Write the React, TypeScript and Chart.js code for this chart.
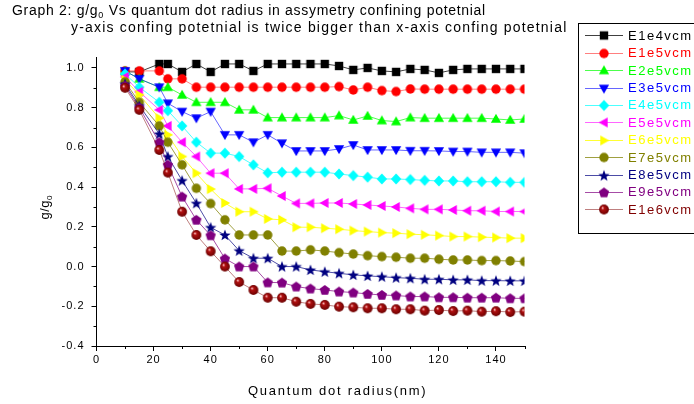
import React, { useEffect, useRef } from 'react';
import { Chart, registerables } from 'chart.js';

Chart.register(...registerables);

// ---------------- data ----------------
const radiusNm = [10, 15, 22, 25, 30, 35, 40, 45, 50, 55, 60, 65, 70, 75, 80, 85, 90, 95, 100, 105, 110, 115, 120, 125, 130, 135, 140, 145, 150];

const seriesNames = ['E1e4vcm', 'E1e5vcm', 'E2e5vcm', 'E3e5vcm', 'E4e5vcm', 'E5e5vcm', 'E6e5vcm', 'E7e5vcm', 'E8e5vcm', 'E9e5vcm', 'E1e6vcm'];

const E1e4 = [0.98, 0.98, 1.02, 1.02, 0.98, 1.02, 0.98, 1.02, 1.02, 0.985, 1.02, 1.02, 1.02, 1.02, 1.02, 1.01, 0.99, 1.0, 0.985, 0.98, 0.995, 0.99, 0.975, 0.99, 0.995, 0.995, 0.995, 0.995, 0.995];
const E1e5 = [0.985, 0.985, 0.985, 0.945, 0.945, 0.903, 0.903, 0.903, 0.903, 0.903, 0.903, 0.903, 0.903, 0.903, 0.903, 0.906, 0.889, 0.903, 0.886, 0.881, 0.894, 0.893, 0.893, 0.893, 0.893, 0.893, 0.893, 0.893, 0.893];
const E2e5 = [0.985, 0.945, 0.903, 0.903, 0.864, 0.827, 0.827, 0.827, 0.789, 0.789, 0.75, 0.75, 0.75, 0.75, 0.75, 0.76, 0.738, 0.758, 0.735, 0.73, 0.75, 0.747, 0.747, 0.747, 0.747, 0.747, 0.743, 0.738, 0.743];
const E3e5 = [0.985, 0.945, 0.903, 0.822, 0.78, 0.747, 0.78, 0.663, 0.663, 0.626, 0.663, 0.621, 0.582, 0.582, 0.582, 0.592, 0.612, 0.587, 0.587, 0.587, 0.583, 0.583, 0.582, 0.579, 0.579, 0.575, 0.575, 0.575, 0.571];
const E4e5 = [0.97, 0.903, 0.827, 0.785, 0.708, 0.626, 0.571, 0.571, 0.554, 0.512, 0.472, 0.475, 0.475, 0.475, 0.475, 0.466, 0.458, 0.45, 0.441, 0.441, 0.438, 0.434, 0.431, 0.431, 0.427, 0.427, 0.427, 0.424, 0.424];
const E5e5 = [0.955, 0.88, 0.789, 0.708, 0.626, 0.554, 0.47, 0.47, 0.391, 0.391, 0.394, 0.355, 0.318, 0.318, 0.32, 0.32, 0.315, 0.31, 0.305, 0.3, 0.293, 0.288, 0.288, 0.285, 0.281, 0.281, 0.277, 0.277, 0.277];
const E6e5 = [0.94, 0.864, 0.747, 0.663, 0.554, 0.47, 0.39, 0.32, 0.276, 0.276, 0.24, 0.235, 0.198, 0.198, 0.193, 0.188, 0.181, 0.176, 0.171, 0.168, 0.163, 0.16, 0.156, 0.151, 0.151, 0.148, 0.146, 0.143, 0.143];
const E7e5 = [0.93, 0.827, 0.708, 0.626, 0.512, 0.394, 0.317, 0.235, 0.159, 0.159, 0.159, 0.078, 0.078, 0.084, 0.078, 0.07, 0.063, 0.055, 0.05, 0.047, 0.042, 0.042, 0.037, 0.033, 0.033, 0.03, 0.03, 0.028, 0.025];
const E8e5 = [0.92, 0.81, 0.668, 0.554, 0.433, 0.319, 0.197, 0.159, 0.08, 0.042, 0.042, 0.0, 0.0, -0.017, -0.026, -0.034, -0.042, -0.047, -0.051, -0.056, -0.059, -0.064, -0.064, -0.067, -0.067, -0.071, -0.071, -0.072, -0.072];
const E9e5 = [0.91, 0.8, 0.626, 0.512, 0.352, 0.235, 0.157, 0.04, 0.0, 0.0, -0.08, -0.081, -0.101, -0.111, -0.118, -0.126, -0.131, -0.138, -0.143, -0.146, -0.151, -0.151, -0.155, -0.155, -0.157, -0.157, -0.157, -0.16, -0.16];
const E1e6 = [0.9, 0.789, 0.587, 0.473, 0.276, 0.159, 0.077, 0.0, -0.078, -0.118, -0.157, -0.157, -0.177, -0.188, -0.193, -0.202, -0.205, -0.21, -0.21, -0.215, -0.215, -0.222, -0.219, -0.224, -0.222, -0.227, -0.225, -0.229, -0.227];

const seriesValues = [E1e4, E1e5, E2e5, E3e5, E4e5, E5e5, E6e5, E7e5, E8e5, E9e5, E1e6];

const seriesColors = ['#000000', '#FF0000', '#00FF00', '#0000FF', '#00FFFF', '#FF00FF', '#FFFF00', '#808000', '#000080', '#800080', '#800000'];
const lineColors = ['rgba(0,0,0,0.75)', 'rgba(255,0,0,0.5)', 'rgba(0,255,0,0.7)', 'rgba(0,0,255,0.6)', 'rgba(0,255,255,0.7)', 'rgba(255,0,255,0.6)', 'rgba(255,255,0,0.8)', 'rgba(128,128,0,0.75)', 'rgba(0,0,128,0.7)', 'rgba(128,0,128,0.7)', 'rgba(128,0,0,0.5)'];
const markerKinds = ['square', 'circle', 'triangleUp', 'triangleDown', 'diamond', 'triangleLeft', 'triangleRight', 'circle', 'star', 'pentagon', 'sphere'];

const xMinorTicks = [10, 30, 50, 70, 90, 110, 130, 150];
const yMinorTicks = [-0.3, -0.1, 0.1, 0.3, 0.5, 0.7, 0.9];

const titleLine1 = ['Graph 2: g/g', '0', ' Vs quantum dot radius in assymetry confining potetnial'];
const titleLine2 = 'y-axis confing potetnial is twice bigger than x-axis confing potetnial';
const xTitle = 'Quantum dot radius(nm)';
const yTitle = ['g/g', '0'];

const FONT = '"Liberation Sans", Arial, Helvetica, sans-serif';

// ---------------- markers ----------------
function makeMarker(kind: string, color: string): HTMLCanvasElement {
  const S = 14;
  const c = document.createElement('canvas');
  c.width = S;
  c.height = S;
  const g = c.getContext('2d') as CanvasRenderingContext2D;
  g.translate(S / 2, S / 2);
  g.fillStyle = color;
  g.beginPath();
  const poly = (pts: number[][]) => {
    pts.forEach(([x, y], i) => (i ? g.lineTo(x, y) : g.moveTo(x, y)));
    g.closePath();
  };
  const tri = (rot: number) => {
    const base = [[0, -5.3], [5.1, 3.7], [-5.1, 3.7]];
    poly(base.map(([x, y]) => [x * Math.cos(rot) - y * Math.sin(rot), x * Math.sin(rot) + y * Math.cos(rot)]));
  };
  switch (kind) {
    case 'square':
      g.rect(-4.2, -4.2, 8.4, 8.4);
      break;
    case 'circle':
      g.arc(0, 0, 4.7, 0, Math.PI * 2);
      break;
    case 'triangleUp':
      tri(0);
      break;
    case 'triangleDown':
      tri(Math.PI);
      break;
    case 'triangleLeft':
      tri(-Math.PI / 2);
      break;
    case 'triangleRight':
      tri(Math.PI / 2);
      break;
    case 'diamond':
      poly([[0, -5.6], [5.2, 0], [0, 5.6], [-5.2, 0]]);
      break;
    case 'star': {
      const pts: number[][] = [];
      for (let k = 0; k < 10; k++) {
        const r = k % 2 === 0 ? 6 : 2.5;
        const a = -Math.PI / 2 + (k * Math.PI) / 5;
        pts.push([r * Math.cos(a), r * Math.sin(a) + 0.5]);
      }
      poly(pts);
      break;
    }
    case 'pentagon': {
      const pts: number[][] = [];
      for (let k = 0; k < 5; k++) {
        const a = -Math.PI / 2 + (k * 2 * Math.PI) / 5;
        pts.push([5.4 * Math.cos(a), 5.4 * Math.sin(a) + 0.5]);
      }
      poly(pts);
      break;
    }
    case 'sphere': {
      const grd = g.createRadialGradient(-1.6, -1.8, 0.2, 0, 0, 5);
      grd.addColorStop(0, '#ffc8c8');
      grd.addColorStop(0.3, '#b01010');
      grd.addColorStop(1, '#6a0000');
      g.fillStyle = grd;
      g.arc(0, 0, 4.9, 0, Math.PI * 2);
      break;
    }
  }
  g.fill();
  return c;
}

// draw a run of text parts where every second part is a subscript
function drawParts(ctx: CanvasRenderingContext2D, parts: string[], x: number, y: number, size: number, spacing: string) {
  let cx = x;
  parts.forEach((p, i) => {
    const sub = i % 2 === 1;
    ctx.font = `${sub ? Math.round(size * 0.62) : size}px ${FONT}`;
    (ctx as any).letterSpacing = sub ? '0px' : spacing;
    ctx.fillText(p, cx, sub ? y + 3 : y);
    cx += ctx.measureText(p).width + (sub ? 1 : 0);
  });
  return cx - x;
}

function measureParts(ctx: CanvasRenderingContext2D, parts: string[], size: number, spacing: string) {
  let w = 0;
  parts.forEach((p, i) => {
    const sub = i % 2 === 1;
    ctx.font = `${sub ? Math.round(size * 0.62) : size}px ${FONT}`;
    (ctx as any).letterSpacing = sub ? '0px' : spacing;
    w += ctx.measureText(p).width + (sub ? 1 : 0);
  });
  return w;
}

export default function App() {
  const canvasRef = useRef<HTMLCanvasElement | null>(null);

  useEffect(() => {
    const canvas = canvasRef.current;
    if (!canvas) return;
    Chart.defaults.font.family = FONT;

    const markers = markerKinds.map((k, i) => makeMarker(k, seriesColors[i]));

    const datasets = seriesValues.map((vals, i) => ({
      label: seriesNames[i],
      data: radiusNm.map((x, j) => ({ x, y: vals[j] })),
      borderColor: lineColors[i],
      borderWidth: 1,
      backgroundColor: seriesColors[i],
      pointStyle: markers[i] as any,
      pointRadius: 6,
      pointHoverRadius: 6,
      pointBackgroundColor: seriesColors[i],
      pointBorderColor: seriesColors[i],
      tension: 0,
      fill: false,
      order: seriesValues.length - i,
    }));

    const decorPlugin = {
      id: 'decor',
      beforeDraw(chart: any) {
        chart.ctx.letterSpacing = '1px';
      },
      afterDraw(chart: any) {
        const ctx: CanvasRenderingContext2D = chart.ctx;
        const xs = chart.scales.x;
        const ys = chart.scales.y;
        ctx.save();
        (ctx as any).letterSpacing = '0px';
        ctx.strokeStyle = '#000';
        ctx.lineWidth = 1;
        // minor ticks
        xMinorTicks.forEach((v) => {
          const p = Math.round(xs.getPixelForValue(v)) + 0.5;
          ctx.beginPath();
          ctx.moveTo(p, ys.bottom);
          ctx.lineTo(p, ys.bottom + 3);
          ctx.stroke();
        });
        yMinorTicks.forEach((v) => {
          const p = Math.round(ys.getPixelForValue(v)) + 0.5;
          ctx.beginPath();
          ctx.moveTo(xs.left - 3, p);
          ctx.lineTo(xs.left, p);
          ctx.stroke();
        });

        ctx.fillStyle = '#000';
        ctx.textBaseline = 'alphabetic';
        ctx.textAlign = 'left';
        // title
        drawParts(ctx, titleLine1, 12, 15, 14, '0.7px');
        drawParts(ctx, [titleLine2], 71, 32, 14, '1.2px');

        // x title
        ctx.font = `13px ${FONT}`;
        (ctx as any).letterSpacing = '1.75px';
        ctx.fillText(xTitle, 248, 395);

        // y title (rotated)
        const yw = measureParts(ctx, yTitle, 13, '0.5px');
        ctx.save();
        ctx.translate(49, 207);
        ctx.rotate(-Math.PI / 2);
        drawParts(ctx, yTitle, -yw / 2, 0, 13, '0.5px');
        ctx.restore();

        // legend
        ctx.strokeStyle = '#000';
        ctx.lineWidth = 1;
        ctx.strokeRect(578.5, 23.5, 200, 210);
        chart.data.datasets.forEach((ds: any, i: number) => {
          const y = 35.3 + i * 17.4;
          ctx.strokeStyle = lineColors[i];
          ctx.lineWidth = 1;
          ctx.beginPath();
          ctx.moveTo(585, Math.round(y) + 0.5);
          ctx.lineTo(623, Math.round(y) + 0.5);
          ctx.stroke();
          const m = markers[i];
          ctx.drawImage(m, 604 - m.width / 2, Math.round(y) + 0.5 - m.height / 2);
          ctx.fillStyle = seriesColors[i];
          ctx.font = `13px ${FONT}`;
          (ctx as any).letterSpacing = '1.5px';
          ctx.textBaseline = 'middle';
          ctx.fillText(ds.label, 628, y + 1);
        });
        ctx.restore();
        (ctx as any).letterSpacing = '0px';
      },
    };

    const axisCommon = {
      grid: { display: true, drawOnChartArea: false, drawTicks: true, tickLength: 5, tickColor: '#000', tickWidth: 1 },
      border: { display: true, color: '#000', width: 1 },
    };

    const chart = new Chart(canvas, {
      type: 'line',
      data: { datasets: datasets as any },
      options: {
        animation: false,
        responsive: false,
        devicePixelRatio: 1,
        layout: { padding: { left: 0, right: 169.5, top: 57, bottom: 0 } },
        plugins: {
          legend: { display: false },
          tooltip: { enabled: false },
          title: { display: false },
        },
        scales: {
          x: {
            type: 'linear',
            min: 0,
            max: 150,
            afterFit: (s: any) => {
              s.height = 58;
            },
            ticks: {
              stepSize: 20,
              includeBounds: false,
              color: '#000',
              font: { size: 11, family: FONT },
              padding: 2,
              maxRotation: 0,
              autoSkip: false,
            },
            ...axisCommon,
          },
          y: {
            type: 'linear',
            min: -0.4,
            max: 1.055,
            afterFit: (s: any) => {
              s.width = 96.5;
            },
            ticks: {
              stepSize: 0.2,
              includeBounds: false,
              color: '#000',
              font: { size: 11, family: FONT },
              padding: 7,
              callback: (v: any) => (Math.abs(Number(v)) < 1e-9 ? '0.0' : Number(v).toFixed(1)),
            },
            ...axisCommon,
          },
        },
      } as any,
      plugins: [decorPlugin],
    });

    return () => {
      chart.destroy();
    };
  }, []);

  return (
    <div style={{ position: 'fixed', left: 0, top: 0, width: 694, height: 404, background: '#ffffff', overflow: 'hidden' }}>
      <canvas ref={canvasRef} width={694} height={404} style={{ display: 'block' }} />
    </div>
  );
}
